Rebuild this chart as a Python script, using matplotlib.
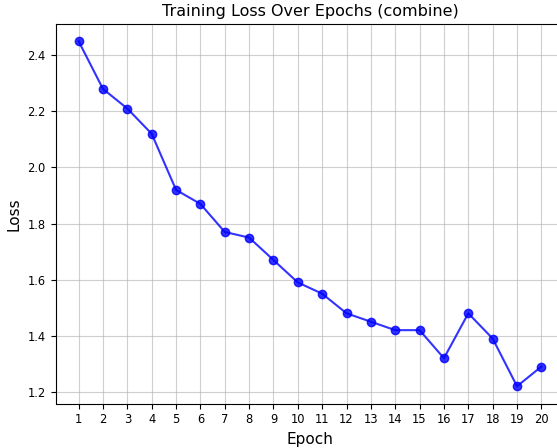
import matplotlib
matplotlib.use('Agg')
import matplotlib.pyplot as plt

epochs = list(range(1, 21))
loss = [2.45, 2.28, 2.21, 2.12, 1.92, 1.87, 1.77, 1.75, 1.67, 1.59,
        1.55, 1.48, 1.45, 1.42, 1.42, 1.32, 1.48, 1.39, 1.22, 1.29]

fig = plt.figure(figsize=(5.57, 4.48), dpi=100)
# axes extend past the right edge (reference is cropped there)
ax = fig.add_axes([55.5 / 557, 44.5 / 448, 509 / 557, 379.5 / 448])

ax.plot(epochs, loss, marker='o', color='blue', alpha=0.8, markersize=6, linewidth=1.5)
ax.set_title('Training Loss Over Epochs (combine)', fontsize=11.5)
ax.set_xlabel('Epoch', fontsize=11)
ax.set_ylabel('Loss', fontsize=11)
ax.set_xticks(epochs)
ax.tick_params(labelsize=8.3)
ax.grid(True, alpha=0.6)

fig.savefig('out.png', dpi=100)
